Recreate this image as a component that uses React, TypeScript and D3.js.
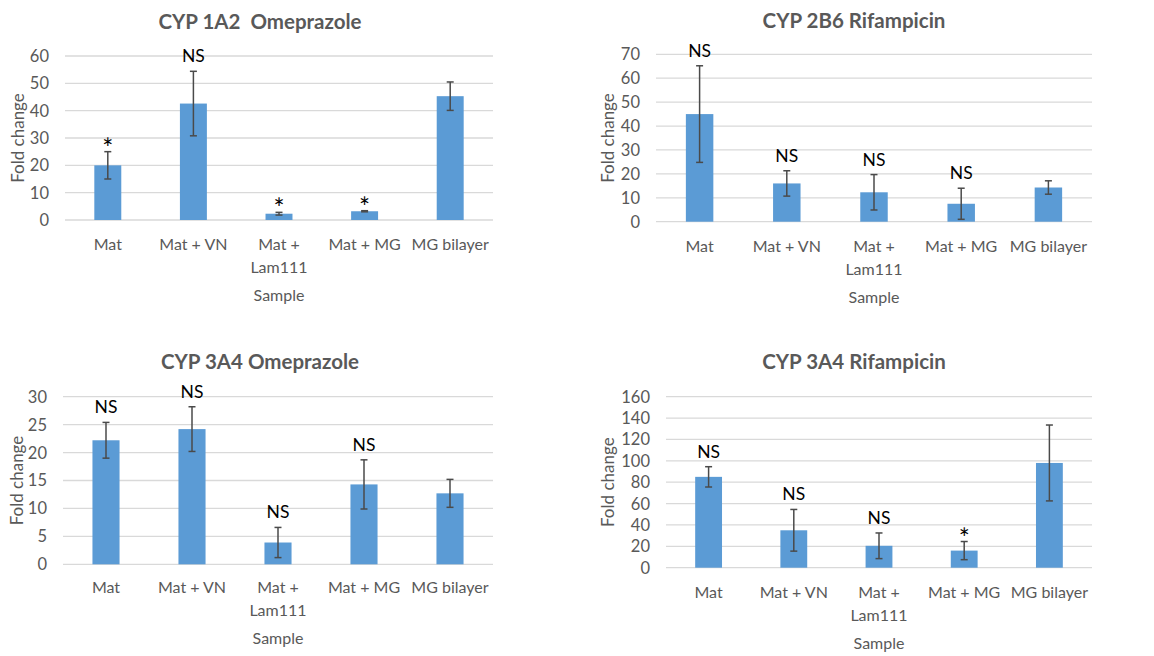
import * as d3 from "d3";

// categorias comunes
const categories = ["Mat", "Mat + VN", "Mat + Lam111", "Mat + MG", "MG bilayer"];
const categoryLines = [["Mat"], ["Mat + VN"], ["Mat +", "Lam111"], ["Mat + MG"], ["MG bilayer"]];

// CYP 1A2 Omeprazole
const cyp1a2Omep = [20, 42.6, 2.3, 3.2, 45.3];
const cyp1a2OmepErr = [5, 11.8, 0.5, 0.2, 5.2];
const cyp1a2OmepSig = ["*", "NS", "*", "*", ""];
const cyp1a2Ticks = [0, 10, 20, 30, 40, 50, 60];

// CYP 2B6 Rifampicin
const cyp2b6Rif = [45, 16, 12.3, 7.5, 14.3];
const cyp2b6RifErr = [20.2, 5.3, 7.4, 6.5, 2.8];
const cyp2b6RifSig = ["NS", "NS", "NS", "NS", ""];
const cyp2b6Ticks = [0, 10, 20, 30, 40, 50, 60, 70];

// CYP 3A4 Omeprazole
const cyp3a4Omep = [22.2, 24.2, 3.9, 14.3, 12.7];
const cyp3a4OmepErr = [3.2, 4, 2.7, 4.4, 2.5];
const cyp3a4OmepSig = ["NS", "NS", "NS", "NS", ""];
const cyp3a4OmepTicks = [0, 5, 10, 15, 20, 25, 30];

// CYP 3A4 Rifampicin
const cyp3a4Rif = [85, 35, 20.5, 16, 98];
const cyp3a4RifErr = [9.5, 19.5, 12, 8.5, 35.5];
const cyp3a4RifSig = ["NS", "NS", "NS", "*", ""];
const cyp3a4RifTicks = [0, 20, 40, 60, 80, 100, 120, 140, 160];

const FONT = "Lato, 'Open Sans', sans-serif";
const GRAY = "#595959";

type PanelProps = {
  title: string;
  values: number[];
  errs: number[];
  sig: string[];
  ticks: number[];
  x0: number;
  x1: number;
  yTop: number;
  yBot: number;
  titleX: number;
  titleY: number;
  xLabelY: number;
  yLabelX: number;
};

const Panel = (p: PanelProps) => {
  const x = d3
    .scaleBand()
    .domain(categories)
    .range([p.x0, p.x1])
    .paddingInner(0.685)
    .paddingOuter(0.3425);
  const y = d3
    .scaleLinear()
    .domain([0, d3.max(p.ticks) as number])
    .range([p.yBot, p.yTop]);
  const bw = x.bandwidth();

  return (
    <g>
      <text
        x={p.titleX}
        y={p.titleY}
        textAnchor="middle"
        fontFamily={FONT}
        fontWeight="bold"
        fontSize={20.5}
        fill={GRAY}
        style={{ whiteSpace: "pre" }}
      >
        {p.title}
      </text>
      {p.ticks.map((t) => (
        <g key={t}>
          <line x1={p.x0} x2={p.x1} y1={y(t)} y2={y(t)} stroke="#d9d9d9" strokeWidth={1.3} />
          <text
            x={p.x0 - 16}
            y={y(t)}
            dy="0.36em"
            textAnchor="end"
            fontFamily={FONT}
            fontSize={16.5}
            fill={GRAY}
          >
            {t}
          </text>
        </g>
      ))}
      {p.values.map((v, i) => {
        const cx = (x(categories[i]) as number) + bw / 2;
        const top = y(v + p.errs[i]);
        const lo = y(v - p.errs[i]);
        const s = p.sig[i];
        return (
          <g key={i}>
            <rect x={cx - bw / 2} y={y(v)} width={bw} height={y(0) - y(v)} fill="#5b9bd5" />
            <line x1={cx} x2={cx} y1={top} y2={lo} stroke="#4a4a4a" strokeWidth={1.5} />
            <line x1={cx - 3.5} x2={cx + 3.5} y1={top} y2={top} stroke="#4a4a4a" strokeWidth={1.5} />
            <line x1={cx - 3.5} x2={cx + 3.5} y1={lo} y2={lo} stroke="#4a4a4a" strokeWidth={1.5} />
            {s && (
              <text
                x={cx}
                y={s === "*" ? top + 6 : top - 9}
                textAnchor="middle"
                fontFamily={FONT}
                fontSize={s === "*" ? 26 : 17.5}
                fill="#000"
              >
                {s}
              </text>
            )}
          </g>
        );
      })}
      {categoryLines.map((lines, i) => {
        const cx = (x(categories[i]) as number) + bw / 2;
        return lines.map((l, j) => (
          <text
            key={i + "-" + j}
            x={cx}
            y={p.xLabelY + j * 23}
            textAnchor="middle"
            fontFamily={FONT}
            fontSize={16}
            fill={GRAY}
          >
            {l}
          </text>
        ));
      })}
      <text
        x={(p.x0 + p.x1) / 2}
        y={p.xLabelY + 51}
        textAnchor="middle"
        fontFamily={FONT}
        fontSize={16}
        fill={GRAY}
      >
        Sample
      </text>
      <text
        transform={`translate(${p.yLabelX},${(p.yTop + p.yBot) / 2}) rotate(-90)`}
        textAnchor="middle"
        fontFamily={FONT}
        fontSize={17}
        fill={GRAY}
      >
        Fold change
      </text>
    </g>
  );
};

export default function App() {
  return (
    <svg
      width={1154}
      height={656}
      style={{ position: "absolute", left: 0, top: 0, background: "#fff" }}
    >
      <rect width={1154} height={656} fill="#fff" />
      <Panel
        title="CYP 1A2  Omeprazole"
        values={cyp1a2Omep}
        errs={cyp1a2OmepErr}
        sig={cyp1a2OmepSig}
        ticks={cyp1a2Ticks}
        x0={65}
        x1={493}
        yTop={56}
        yBot={220}
        titleX={260}
        titleY={29}
        xLabelY={250}
        yLabelX={24}
      />
      <Panel
        title="CYP 2B6 Rifampicin"
        values={cyp2b6Rif}
        errs={cyp2b6RifErr}
        sig={cyp2b6RifSig}
        ticks={cyp2b6Ticks}
        x0={656}
        x1={1092}
        yTop={54.3}
        yBot={221.7}
        titleX={854}
        titleY={28}
        xLabelY={252}
        yLabelX={614}
      />
      <Panel
        title="CYP 3A4 Omeprazole"
        values={cyp3a4Omep}
        errs={cyp3a4OmepErr}
        sig={cyp3a4OmepSig}
        ticks={cyp3a4OmepTicks}
        x0={63}
        x1={493}
        yTop={396.7}
        yBot={564.3}
        titleX={260}
        titleY={369}
        xLabelY={593}
        yLabelX={23}
      />
      <Panel
        title="CYP 3A4 Rifampicin"
        values={cyp3a4Rif}
        errs={cyp3a4RifErr}
        sig={cyp3a4RifSig}
        ticks={cyp3a4RifTicks}
        x0={666}
        x1={1092}
        yTop={396.7}
        yBot={567.7}
        titleX={854}
        titleY={369}
        xLabelY={598}
        yLabelX={614}
      />
    </svg>
  );
}
